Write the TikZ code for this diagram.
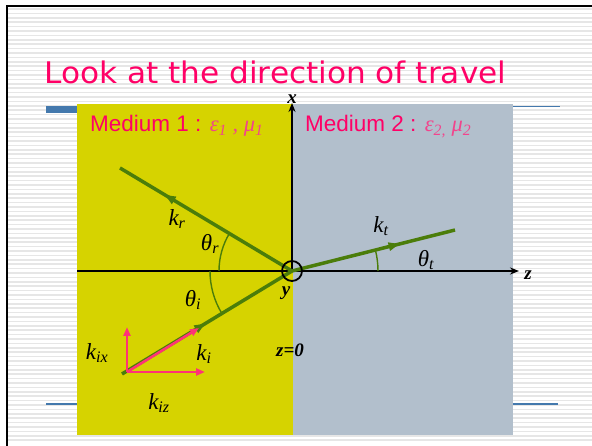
\documentclass[tikz,border=0pt]{standalone}
\usepackage{fontspec}
\setmainfont{Liberation Serif}
\newfontfamily\sansfam{Liberation Sans}
\newfontfamily\titlefam{DejaVu Sans}
\usetikzlibrary{arrows.meta,decorations.markings}
\definecolor{yel}{HTML}{D6D300}
\definecolor{slate}{HTML}{B2BFCC}
\definecolor{titlered}{HTML}{FF0066}
\definecolor{greekpink}{HTML}{F2448C}
\definecolor{raygreen}{HTML}{4B7D0A}
\definecolor{comppink}{HTML}{FF3377}
\definecolor{barblue}{HTML}{4479AD}
\definecolor{stripe}{HTML}{E6E6E6}
\tikzset{
  lbl/.style={inner sep=0pt, font=\fontsize{23}{27}\selectfont\itshape},
  axlbl/.style={inner sep=0pt, font=\fontsize{19}{23}\selectfont\bfseries\itshape},
  medium/.style={inner sep=0pt, anchor=base west, text=titlered, font=\fontsize{22.5}{26}\selectfont\sansfam},
  ray/.style={raygreen, line width=3.5pt},
  midarrow/.style={postaction={decorate}, decoration={markings, mark=at position #1 with {\arrow[raygreen]{Triangle[length=11pt,width=8pt]}}}},
  anglearc/.style={raygreen, line width=1.4pt},
  axis/.style={black, line width=1.8pt, -{Stealth[length=9pt,width=7pt]}},
  comp/.style={comppink, line width=2.6pt, -{Triangle[length=9pt,width=7pt]}},
}
\begin{document}
\begin{tikzpicture}[x=1pt,y=-1pt]
\useasboundingbox (0,0) rectangle (592,446);
\fill[white] (0,0) rectangle (592,446);
\foreach \i in {0,...,98} \draw[stripe, line width=1.5pt] (8,9+\i*4.4) -- (592,9+\i*4.4);
\draw[black, line width=2.6pt] (7,446) -- (7,6) -- (592,6);
% template bars
\fill[barblue] (46,106) rectangle (78,113);
\draw[barblue, line width=1.6pt] (512,106.5) -- (560,106.5);
\draw[barblue, line width=1.2pt] (46,404) -- (78,404);
\draw[barblue, line width=1.2pt] (512,404) -- (558,404);
% title
\node[inner sep=0pt, anchor=base west, text=titlered] (title) at (44,83.3)
  {\resizebox{462pt}{22.6pt}{\titlefam Look at the direction of travel}};
% media
\fill[yel] (77,104) rectangle (293,435);
\fill[slate] (293,104) rectangle (513,435);
\node[medium] (m1) at (90,132) {Medium 1 : {\rmfamily\itshape\color{greekpink}ε\textsubscript{1} , μ\textsubscript{1}}};
\node[medium] (m2) at (305,132) {Medium 2 : {\rmfamily\itshape\color{greekpink}ε\textsubscript{2,} μ\textsubscript{2}}};
% coordinates
\coordinate (O) at (292,271);
\coordinate (R) at (120,168);
\coordinate (I) at (122,374);
\coordinate (T) at (455,230);
\coordinate (zl) at (77,271);
\coordinate (zr) at (519,271);
\coordinate (xt) at (292,103);
\coordinate (P) at (127,372);
\coordinate (Px) at (127,327);
\coordinate (Pz) at (205,372);
\coordinate (Pk) at (199,328);
% axes
\draw[axis] (zl) -- (zr);
\draw[axis] (O) -- (xt);
\node[axlbl] (xlab) at (292,99.5) {x};
\node[axlbl] (zlab) at (528,275) {z};
\node[axlbl] (ylab) at (286,293) {y};
\node[axlbl] (z0) at (290,350) {z=0};
% angle arcs
\draw[anglearc] (O) ++(180:73) arc[start angle=180, end angle=211, radius=73];
\draw[anglearc] (O) ++(180:82) arc[start angle=180, end angle=148.8, radius=82];
\draw[anglearc] (O) ++(0:86) arc[start angle=0, end angle=-14.1, radius=86];
% rays
\draw[ray, midarrow=0.74] (O) -- (R);
\draw[ray, midarrow=0.49] (I) -- (O);
\draw[ray, midarrow=0.66] (O) -- (T);
\draw[black, line width=1.8pt] (O) circle[radius=10];
% components
\draw[comp] (P) -- (Px);
\draw[comp] (P) -- (Pz);
\draw[comp] (P) -- (Pk);
% labels
\node[lbl] (kr) at (177,219) {k\textsubscript{r}};
\node[lbl] (thr) at (210,244) {θ\textsubscript{r}};
\node[lbl] (kt) at (381,226) {k\textsubscript{t}};
\node[lbl] (tht) at (426,260) {θ\textsubscript{t}};
\node[lbl] (thi) at (193,300) {θ\textsubscript{i}};
\node[lbl] (ki) at (204,354) {k\textsubscript{i}};
\node[lbl] (kix) at (97,353) {k\textsubscript{ix}};
\node[lbl] (kiz) at (159,403) {k\textsubscript{iz}};
\end{tikzpicture}
\end{document}
